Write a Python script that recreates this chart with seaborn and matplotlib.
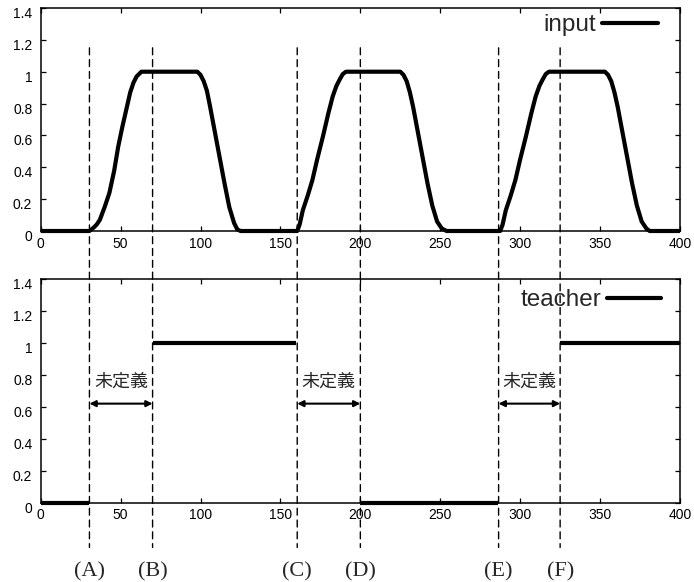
import numpy as np
import pandas as pd
import matplotlib
matplotlib.use("Agg")
import matplotlib.pyplot as plt
from matplotlib.lines import Line2D
from matplotlib.patches import ConnectionPatch
from matplotlib.transforms import ScaledTranslation
import seaborn as sns

# ---------------- data ----------------
input_x = [0, 30.5, 33, 35, 37, 40, 43, 46, 48.5, 51, 53.5, 56, 58, 60, 63,
           98, 100, 102, 104, 106, 109, 112, 115, 118, 121, 123, 125,
           160.5, 162, 164, 167, 170, 173, 176.5, 180, 182.7, 185, 187, 189, 191,
           225, 227, 229, 231, 233, 236, 239, 242, 245, 248, 251, 254,
           287.5, 289, 291, 294, 297, 300, 303.5, 307, 309.7, 312, 314, 316, 318,
           353, 355, 357, 359, 361, 364, 367, 370, 373, 376, 379, 381, 400]
input_y = [0, 0, 0.02, 0.04, 0.07, 0.15, 0.24, 0.38, 0.53, 0.65, 0.76, 0.87, 0.93, 0.97, 1,
           1, 0.98, 0.94, 0.88, 0.78, 0.62, 0.46, 0.30, 0.15, 0.05, 0.01, 0,
           0, 0.04, 0.13, 0.22, 0.32, 0.45, 0.59, 0.74, 0.845, 0.91, 0.95, 0.985, 1,
           1, 0.98, 0.94, 0.87, 0.78, 0.62, 0.46, 0.30, 0.16, 0.06, 0.015, 0,
           0, 0.04, 0.13, 0.22, 0.32, 0.45, 0.59, 0.74, 0.845, 0.91, 0.95, 0.985, 1,
           1, 0.98, 0.94, 0.87, 0.78, 0.62, 0.46, 0.30, 0.16, 0.06, 0.015, 0, 0]

teacher_x = [0, 30, 70, 160, 200, 286, 325, 400]
teacher_y = [0, 0, 1, 1, 0, 0, 1, 1]
teacher_seg = [0, 0, 1, 1, 2, 2, 3, 3]

event_x = [30.5, 70, 160.5, 200, 286.5, 325]
event_labels = ["(A)", "(B)", "(C)", "(D)", "(E)", "(F)"]
undefined_spans = [(30.5, 70), (160.5, 200), (286.5, 325)]
undefined_label = "未定義"

x_ticks = [0, 50, 100, 150, 200, 250, 300, 350, 400]
y_ticks = [0, 0.2, 0.4, 0.6, 0.8, 1, 1.2, 1.4]
y_ticklabels = ["0", "0.2", "0.4", "0.6", "0.8", "1", "1.2", "1.4"]

# ---------------- style ----------------
sns.set_style("ticks")
plt.rcParams["font.family"] = ["Liberation Sans", "DejaVu Sans"]

fig = plt.figure(figsize=(6.94, 5.82), dpi=100)
ax1 = fig.add_axes([40.7 / 694, 1 - 231 / 582, (680 - 40.7) / 694, (231 - 8) / 582])
ax2 = fig.add_axes([40.7 / 694, 1 - 502.7 / 582, (680 - 40.7) / 694, (502.7 - 279) / 582])

df_in = pd.DataFrame({"x": input_x, "y": input_y})
sns.lineplot(data=df_in, x="x", y="y", ax=ax1, color="black", lw=3,
             estimator=None, sort=False, solid_joinstyle="round",
             solid_capstyle="butt", clip_on=False)

df_t = pd.DataFrame({"x": teacher_x, "y": teacher_y, "seg": teacher_seg})
sns.lineplot(data=df_t, x="x", y="y", units="seg", ax=ax2, color="black", lw=3,
             estimator=None, sort=False, solid_capstyle="butt", clip_on=False)

for ax in (ax1, ax2):
    ax.set_xlim(0, 400)
    ax.set_ylim(0, 1.4)
    ax.set_xticks(x_ticks)
    ax.set_xticklabels([str(v) for v in x_ticks])
    ax.set_yticks(y_ticks)
    ax.set_yticklabels(y_ticklabels)
    ax.set_xlabel("")
    ax.set_ylabel("")
    ax.tick_params(direction="in", top=True, right=True, length=3.5, width=0.9,
                   labelsize=10, colors="black")
    ax.tick_params(axis="x", pad=4)
    ax.tick_params(axis="y", pad=6)
    for s in ax.spines.values():
        s.set_visible(True)
        s.set_linewidth(1.1)
        s.set_color("black")
    off = ScaledTranslation(0, -4.5 / 100, fig.dpi_scale_trans)
    for lab in ax.get_yticklabels():
        lab.set_transform(lab.get_transform() + off)
    ax.set_zorder(1)
    ax.patch.set_alpha(0)

ax1.legend([Line2D([], [], color="black", lw=3)], ["input"], loc="upper right",
           bbox_to_anchor=(0.966, 0.972), markerfirst=False, frameon=False,
           fontsize=17.5, handlelength=2.3, handletextpad=0.25, borderpad=0, borderaxespad=0)
ax2.legend([Line2D([], [], color="black", lw=3)], ["teacher"], loc="upper right",
           bbox_to_anchor=(0.97, 0.955), markerfirst=False, frameon=False,
           fontsize=17.5, handlelength=2.2, handletextpad=0.25, borderpad=0, borderaxespad=0)

# dashed event lines spanning both panels
for xv, lab in zip(event_x, event_labels):
    cp = ConnectionPatch(xyA=(xv, 1.15), coordsA=ax1.transData,
                         xyB=(xv, -0.28), coordsB=ax2.transData,
                         color="black", lw=1.0, linestyle=(0, (5, 3.5)))
    fig.add_artist(cp)
    ax2.text(xv, -0.43, lab, ha="center", va="center", fontsize=16,
             family=["Liberation Serif", "DejaVu Serif"], clip_on=False)

for (a, b) in undefined_spans:
    ax2.annotate("", xy=(a, 0.62), xytext=(b, 0.62),
                 arrowprops=dict(arrowstyle="<|-|>", color="black", lw=1.5,
                                 mutation_scale=9, shrinkA=0, shrinkB=0))
    ax2.text((a + b) / 2, 0.755, undefined_label, ha="center", va="center",
             fontsize=13, family=["Noto Sans CJK JP", "DejaVu Sans"])

fig.savefig("out.png", dpi=100)
